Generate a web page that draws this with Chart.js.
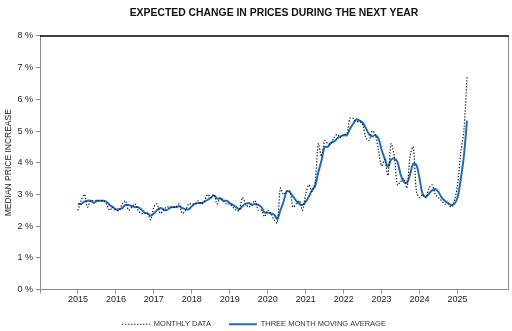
<!DOCTYPE html>
<html>
<head>
<meta charset="utf-8">
<script src="https://cdn.jsdelivr.net/npm/chart.js@4.4.1/dist/chart.umd.min.js"></script>
<style>
  html, body { margin: 0; padding: 0; background: #fff; }
</style>
</head>
<body>
<canvas id="prices" width="512" height="331"></canvas>
<script>
// monthly readings, Jan 2015 .. Apr 2025 (percent)
var firstYear = 2015;
var monthly = [
  2.5, 2.8, 3.0, 2.6, 2.8, 2.8, 2.8, 2.8, 2.8, 2.7, 2.5, 2.6,
  2.5, 2.5, 2.7, 2.8, 2.5, 2.6, 2.7, 2.5, 2.4, 2.4, 2.4, 2.2,
  2.6, 2.7, 2.4, 2.5, 2.6, 2.6, 2.6, 2.6, 2.7, 2.4, 2.5, 2.7,
  2.7, 2.7, 2.8, 2.7, 2.8, 3.0, 2.9, 3.0, 2.7, 2.9, 2.8, 2.7,
  2.7, 2.6, 2.5, 2.5, 2.9, 2.7, 2.6, 2.7, 2.8, 2.5, 2.5, 2.3,
  2.5, 2.4, 2.2, 2.1, 3.2, 3.0, 3.1, 3.1, 2.6, 2.7, 2.8, 2.5,
  3.0, 3.3, 3.1, 3.4, 4.6, 4.2, 4.7, 4.6, 4.6, 4.8, 4.9, 4.8,
  4.9, 4.9, 5.4, 5.4, 5.3, 5.3, 5.2, 4.8, 4.7, 5.0, 4.9, 4.4,
  3.9, 4.1, 3.6, 4.6, 4.2, 3.3, 3.4, 3.5, 3.2, 4.2, 4.5, 3.1,
  2.9, 3.0, 2.9, 3.2, 3.3, 3.0, 2.9, 2.8, 2.7, 2.7, 2.6, 2.8,
  3.3, 4.3, 5.0, 6.7
];
// three month moving average, same months
var movingAvg = [
  2.70, 2.70, 2.77, 2.80, 2.80, 2.73, 2.80, 2.80, 2.80, 2.77, 2.67, 2.60,
  2.53, 2.53, 2.57, 2.67, 2.67, 2.63, 2.60, 2.60, 2.53, 2.43, 2.40, 2.33,
  2.40, 2.50, 2.57, 2.53, 2.50, 2.57, 2.60, 2.60, 2.63, 2.57, 2.53, 2.53,
  2.63, 2.70, 2.73, 2.73, 2.77, 2.83, 2.90, 2.97, 2.87, 2.87, 2.80, 2.80,
  2.73, 2.67, 2.60, 2.53, 2.63, 2.70, 2.73, 2.67, 2.70, 2.67, 2.60, 2.43,
  2.43, 2.40, 2.37, 2.23, 2.50, 2.77, 3.10, 3.07, 2.93, 2.80, 2.70, 2.67,
  2.77, 2.93, 3.13, 3.27, 3.70, 4.07, 4.50, 4.50, 4.63, 4.67, 4.77, 4.83,
  4.87, 4.87, 5.07, 5.23, 5.37, 5.33, 5.27, 5.10, 4.90, 4.83, 4.87, 4.77,
  4.40, 4.13, 3.87, 4.10, 4.13, 4.03, 3.63, 3.40, 3.37, 3.63, 3.97, 3.93,
  3.50, 3.00, 2.93, 3.03, 3.13, 3.17, 3.07, 2.90, 2.80, 2.73, 2.67, 2.70,
  2.90, 3.47, 4.20, 5.33
];
var yearLabels = [2015, 2016, 2017, 2018, 2019, 2020, 2021, 2022, 2023, 2024, 2025];

var FONT = 'Liberation Sans, Arial, Helvetica, sans-serif';
var DOTS = [1.3, 1.7];

function toPoints(values) {
  return values.map(function (v, i) {
    return { x: firstYear + i / 12, y: v };
  });
}

// black line on top, grey on the right side of the plot
var frame = {
  id: 'frame',
  afterDraw: function (chart) {
    var a = chart.chartArea, c = chart.ctx;
    c.save();
    c.strokeStyle = '#8c8c8c';
    c.lineWidth = 1;
    c.beginPath();
    c.moveTo(a.right + 0.5, a.top);
    c.lineTo(a.right + 0.5, a.bottom);
    c.stroke();
    c.strokeStyle = '#000';
    c.lineWidth = 1.6;
    c.beginPath();
    c.moveTo(a.left, a.top);
    c.lineTo(a.right + 1, a.top);
    c.stroke();
    c.restore();
  }
};

new Chart(document.getElementById('prices'), {
  type: 'line',
  data: {
    datasets: [{
      label: 'MONTHLY DATA',
      data: toPoints(monthly),
      borderColor: '#111',
      borderWidth: 1.2,
      borderDash: DOTS,
      pointRadius: 0,
      tension: 0.3
    }, {
      label: 'THREE MONTH MOVING AVERAGE',
      data: toPoints(movingAvg),
      borderColor: '#1f6cbf',
      borderWidth: 2,
      pointRadius: 0,
      tension: 0.35
    }]
  },
  options: {
    responsive: false,
    animation: false,
    devicePixelRatio: 1,
    layout: { padding: { left: 0, right: 4, top: 0, bottom: -7 } },
    plugins: {
      title: {
        display: true,
        fullSize: false,
        text: 'EXPECTED CHANGE IN PRICES DURING THE NEXT YEAR',
        color: '#111',
        font: { family: FONT, size: 10.4, weight: 'bold' },
        padding: { top: 7, bottom: 16.5 }
      },
      legend: {
        position: 'bottom',
        labels: {
          usePointStyle: true,
          pointStyle: 'line',
          pointStyleWidth: 28,
          boxWidth: 28,
          color: '#333',
          font: { family: FONT, size: 7.5 },
          padding: 18,
          generateLabels: function (chart) {
            var items = Chart.defaults.plugins.legend.labels.generateLabels(chart);
            items.forEach(function (it) {
              var ds = chart.data.datasets[it.datasetIndex];
              it.lineDash = ds.borderDash || [];
              it.lineWidth = ds.borderWidth;
              it.strokeStyle = ds.borderColor;
            });
            return items;
          }
        }
      },
      tooltip: { enabled: false }
    },
    scales: {
      x: {
        type: 'linear',
        min: 2014,
        max: 2026.33,
        afterBuildTicks: function (s) {
          s.ticks = s.ticks.filter(function (t) { return Number.isInteger(t.value); });
        },
        afterFit: function (s) { s.height = 13; },
        border: { color: '#8c8c8c' },
        grid: { drawOnChartArea: false, tickLength: 4, color: '#8c8c8c' },
        ticks: {
          stepSize: 1,
          autoSkip: false,
          maxRotation: 0,
          padding: 1,
          color: '#222',
          font: { family: FONT, size: 9 },
          callback: function (v) {
            return yearLabels.indexOf(v) >= 0 ? String(v) : '';
          }
        }
      },
      y: {
        min: 0,
        max: 8,
        afterFit: function (s) { s.width = 40; },
        border: { color: '#8c8c8c' },
        grid: { drawOnChartArea: false, tickLength: 4, color: '#8c8c8c' },
        ticks: {
          stepSize: 1,
          padding: 3,
          color: '#222',
          font: { family: FONT, size: 9 },
          callback: function (v) { return v + ' %'; }
        },
        title: {
          display: true,
          text: 'MEDIAN PRICE INCREASE',
          color: '#222',
          font: { family: FONT, size: 8.5 },
          padding: { top: 4, bottom: 0 }
        }
      }
    }
  },
  plugins: [frame]
});
</script>
</body>
</html>
